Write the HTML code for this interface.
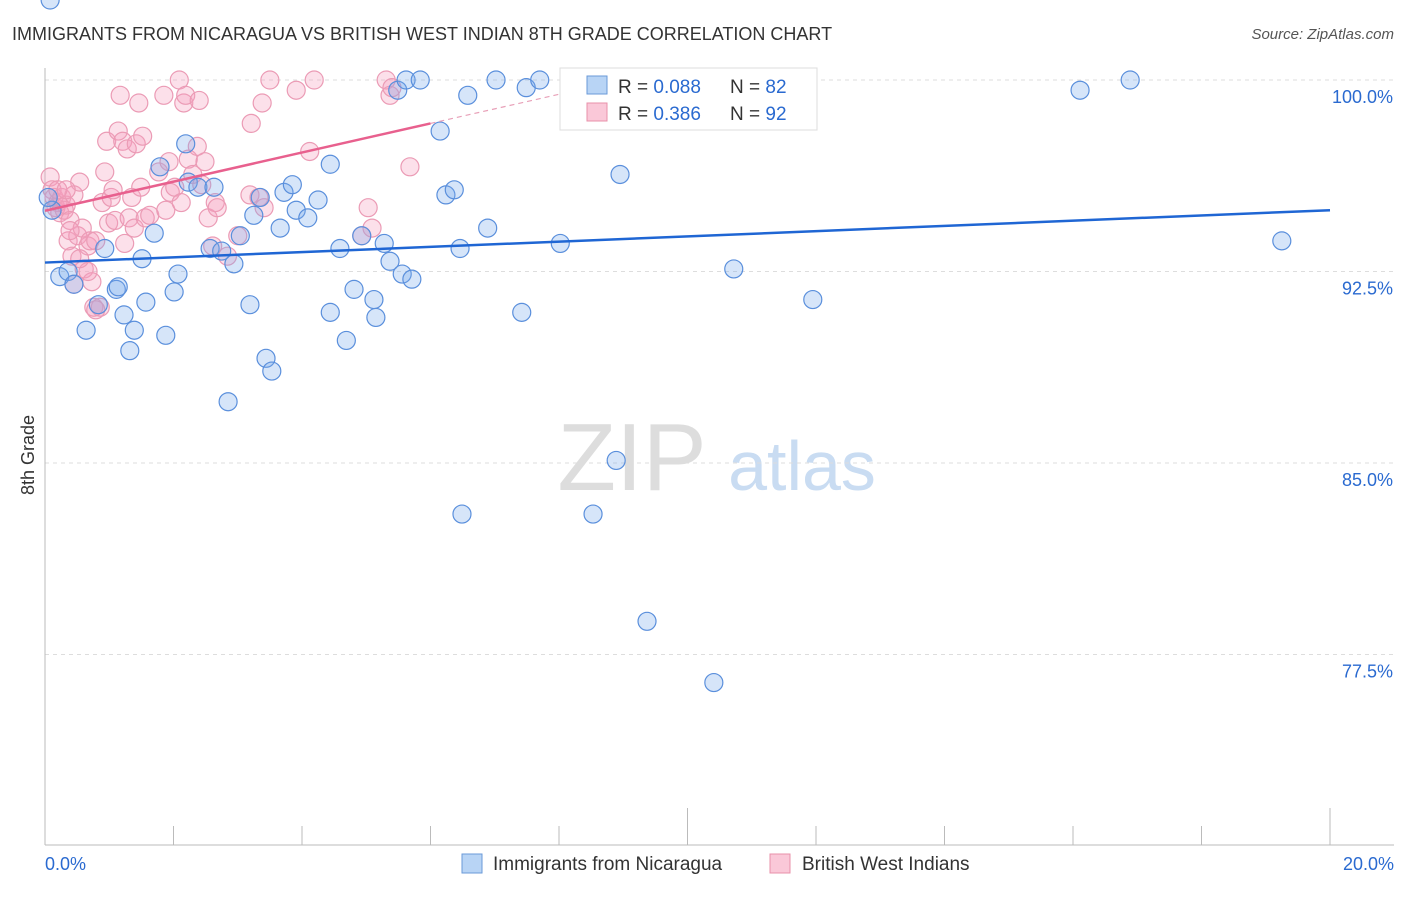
<!DOCTYPE html>
<html><head><meta charset="utf-8"><style>
body{margin:0;background:#fff;font-family:"Liberation Sans",sans-serif;}
svg text{font-family:"Liberation Sans",sans-serif;}
</style></head><body>
<svg id="chart" width="1406" height="892">
<text x="12" y="40" font-size="18" fill="#333">IMMIGRANTS FROM NICARAGUA VS BRITISH WEST INDIAN 8TH GRADE CORRELATION CHART</text>
<text x="1394" y="39" font-size="15" fill="#555" text-anchor="end" font-style="italic">Source: ZipAtlas.com</text>
<g>
<text x="632" y="490" font-size="96" fill="#ddd" text-anchor="middle" font-family="Liberation Serif,serif">ZIP</text>
<text x="802" y="490" font-size="70" fill="#c9dcf2" text-anchor="middle">atlas</text>
</g>
<g id="grid"></g>
<g id="axes"></g>
<g id="marks"></g>
<g>
<rect x="560" y="68" width="257" height="62" fill="#fff" stroke="#ddd"/>
<rect x="587" y="76" width="20" height="18" fill="#b8d4f5" stroke="#6a9ad8"/>
<rect x="587" y="103" width="20" height="18" fill="#fac8d8" stroke="#e890aa"/>
<text x="618" y="93" font-size="19" fill="#333">R = <tspan fill="#2a6ad0">0.088</tspan></text>
<text x="730" y="93" font-size="19" fill="#333">N = <tspan fill="#2a6ad0">82</tspan></text>
<text x="618" y="120" font-size="19" fill="#333">R = <tspan fill="#2a6ad0">0.386</tspan></text>
<text x="730" y="120" font-size="19" fill="#333">N = <tspan fill="#2a6ad0">92</tspan></text>
</g>
<g>
<rect x="462" y="854" width="20" height="19" fill="#b8d4f5" stroke="#6a9ad8"/>
<text x="493" y="870" font-size="19" fill="#333">Immigrants from Nicaragua</text>
<rect x="770" y="854" width="20" height="19" fill="#fac8d8" stroke="#e890aa"/>
<text x="802" y="870" font-size="19" fill="#333">British West Indians</text>
</g>
<text transform="translate(34,455) rotate(-90)" font-size="18" fill="#333" text-anchor="middle">8th Grade</text>
</svg>
<script>
const blueX=[0.23,0.36,0.45,0.64,0.83,0.93,1.11,1.14,1.23,1.32,1.39,1.51,1.57,1.70,1.79,1.88,2.01,2.07,2.19,2.23,2.38,2.57,2.63,2.75,2.85,2.94,3.04,3.19,3.25,3.35,3.44,3.53,3.66,3.72,3.85,3.91,4.09,4.25,4.44,4.44,4.59,4.69,4.81,4.93,5.12,5.15,5.28,5.37,5.49,5.56,5.62,5.71,5.84,6.15,6.24,6.37,6.46,6.49,6.58,6.89,7.02,7.42,7.49,7.70,8.02,8.53,8.89,8.95,9.37,10.41,10.72,11.95,16.11,16.89,19.25,0.11,0.05,0.08];
const blueY=[92.3,92.5,92.0,90.2,91.2,93.4,91.8,91.9,90.8,89.4,90.2,93.0,91.3,94.0,96.6,90.0,91.7,92.4,97.5,96.0,95.8,93.4,95.8,93.3,87.4,92.8,93.9,91.2,94.7,95.4,89.1,88.6,94.2,95.6,95.9,94.9,94.6,95.3,96.7,90.9,93.4,89.8,91.8,93.9,91.4,90.7,93.6,92.9,99.6,92.4,100,92.2,100,98.0,95.5,95.7,93.4,83.0,99.4,94.2,100,90.9,99.7,100,93.6,83.0,85.1,96.3,78.8,76.4,92.6,91.4,99.6,100,93.7,94.9,95.4];
const pinkX=[0.08,0.11,0.14,0.17,0.20,0.23,0.26,0.30,0.33,0.36,0.39,0.42,0.45,0.51,0.54,0.58,0.61,0.67,0.70,0.73,0.76,0.79,0.86,0.89,0.93,0.96,0.99,1.03,1.06,1.09,1.14,1.17,1.21,1.24,1.28,1.31,1.35,1.39,1.42,1.46,1.49,1.52,1.56,1.63,1.77,1.85,1.88,1.93,1.95,2.02,2.09,2.12,2.16,2.19,2.23,2.30,2.37,2.40,2.44,2.49,2.54,2.61,2.65,2.68,2.84,3.00,3.19,3.21,3.33,3.38,3.41,3.50,3.91,4.12,4.19,4.93,5.03,5.09,5.31,5.37,5.40,5.68,0.45,0.67,0.79,0.54,0.20,0.33,0.39];
const pinkY=[96.2,95.7,95.4,95.0,95.2,94.8,95.4,94.9,95.1,93.7,94.5,93.1,95.5,93.9,96.0,94.2,92.6,93.5,93.7,92.1,91.1,93.7,91.1,95.2,96.4,97.6,94.4,95.4,95.7,94.5,98.0,99.4,97.6,93.6,97.3,94.6,95.4,94.2,97.5,99.1,95.8,97.8,94.6,94.7,96.4,99.4,94.9,96.8,95.6,95.8,100,95.2,99.1,99.4,96.9,96.3,97.4,99.2,95.9,96.8,94.6,93.5,95.2,95.0,93.1,93.9,95.5,98.3,95.4,99.1,95.0,100,99.6,97.2,100,93.9,95.0,94.2,100,99.4,99.7,96.6,92.0,92.5,91.0,93.0,95.7,95.7,94.1];
const yTicks=[100,92.5,85,77.5];
const yTickLabels=["100.0%","92.5%","85.0%","77.5%"];
const xEndLabels=["0.0%","20.0%"];
const blueTrend=[92.85,94.9];
const pinkTrend=[94.88,98.3];
const ns="http://www.w3.org/2000/svg";
const X0=45,X1=1330,Y100=80,YPER=191.5/7.5;
function sx(v){return X0+(X1-X0)*v/20;}
function sy(v){return Y100+(100-v)*YPER;}
function mk(tag,attrs,parent){const e=document.createElementNS(ns,tag);for(const k in attrs)e.setAttribute(k,attrs[k]);parent.appendChild(e);return e;}
const grid=document.getElementById('grid'),axes=document.getElementById('axes'),marks=document.getElementById('marks');
yTicks.forEach((t,i)=>{
 const l=mk('line',{x1:X0,x2:1394,y1:sy(t),y2:sy(t),stroke:'#ddd','stroke-dasharray':'4,4'},grid);
 
 
 const tx=mk('text',{x:1393,y:sy(t)+23,'font-size':18,fill:'#2a6ad0','text-anchor':'end'},grid);
 tx.textContent=yTickLabels[i];
 
 
});
const ax=mk('line',{x1:X0,x2:X0,y1:68,y2:845,stroke:'#bbb'},axes);


const bx=mk('line',{x1:X0,x2:1394,y1:845,y2:845,stroke:'#bbb'},axes);


for(let i=0;i<=10;i++){
 const v=i*2;const major=(i==5||i==10);
 const t=mk('line',{x1:sx(v),x2:sx(v),y1:major?808:826,y2:845,stroke:'#bbb'},axes);
 
 
}
[[0,'start',45],[20,'end',1394]].forEach((a,i)=>{
 const t=mk('text',{x:a[2],y:870,'font-size':18,fill:'#2a6ad0','text-anchor':a[1]},axes);
 t.textContent=xEndLabels[i];
 
 
});
pinkX.forEach((x,i)=>{
 const c=mk('circle',{cx:sx(x),cy:sy(pinkY[i]),r:9,fill:'rgba(245,160,190,0.32)',stroke:'#eb9bb5','stroke-width':1.2},marks);
 
 
});
blueX.forEach((x,i)=>{
 const c=mk('circle',{cx:sx(x),cy:sy(blueY[i]),r:9,fill:'rgba(120,170,235,0.3)',stroke:'#5a8fdc','stroke-width':1.2},marks);
 
 
});
const bl=mk('line',{x1:sx(0),y1:sy(blueTrend[0]),x2:sx(20),y2:sy(blueTrend[1]),stroke:'#1f66d4','stroke-width':2.5},marks);


const pe=sy(pinkTrend[0])+(sy(pinkTrend[1])-sy(pinkTrend[0]))*(8.1/6);
const pl=mk('line',{x1:sx(0),y1:sy(pinkTrend[0]),x2:sx(6),y2:sy(pinkTrend[1]),stroke:'#e8608e','stroke-width':2.5},marks);


const pd=mk('line',{x1:sx(6),y1:sy(pinkTrend[1]),x2:sx(8.1),y2:pe,stroke:'#e8a0b8','stroke-width':1.2,'stroke-dasharray':'5,4'},marks);


</script>
</body></html>
